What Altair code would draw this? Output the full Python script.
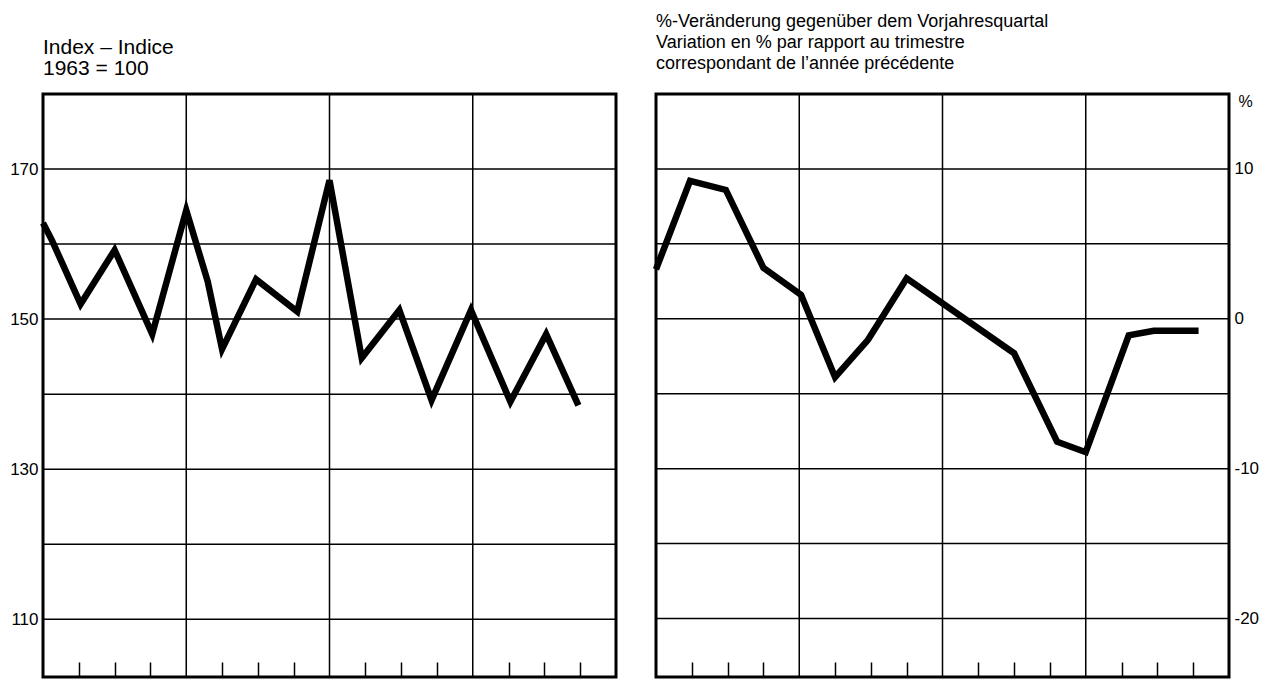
import altair as alt
import pandas as pd

# Left panel: index 1963 = 100 (quarter position, value)
index_q = [0, 0.25, 1.05, 2.0, 3.05, 4.0, 4.6, 5.0, 5.95, 7.1, 8.0, 8.9, 9.95, 10.85, 11.95, 13.05, 14.05, 14.95]
index_v = [162.8, 160.5, 152.0, 159.2, 148.0, 164.5, 155.0, 146.0, 155.3, 151.0, 168.5, 144.8, 151.2, 139.2, 151.2, 139.0, 148.0, 138.5]

# Right panel: % change vs same quarter of previous year
chg_q = [0, 0.95, 1.95, 3.0, 4.05, 5.0, 5.92, 7.0, 10.0, 11.2, 12.0, 13.2, 13.9, 15.15]
chg_v = [3.3, 9.2, 8.6, 3.4, 1.6, -3.9, -1.4, 2.7, -2.3, -8.2, -8.9, -1.1, -0.8, -0.8]

index_grid = [110, 120, 130, 140, 150, 160, 170]
index_labels = [110, 130, 150, 170]
chg_grid = [-20, -15, -10, -5, 0, 5, 10]
chg_labels = [-20, -10, 0, 10]
year_lines = [4, 8, 12]
quarter_ticks = [1, 2, 3, 5, 6, 7, 9, 10, 11, 13, 14, 15]

title_left = ["Index – Indice", "1963 = 100"]
title_right = ["%-Veränderung gegenüber dem Vorjahresquartal",
               "Variation en % par rapport au trimestre",
               "correspondant de l’année précédente"]

W, H = 573, 583
FONT = "Liberation Sans"


def panel(q, v, grid, labels, ydomain, orient, title, tsize, toffset, ytitle):
    xs = alt.Scale(domain=[0, 16], nice=False, zero=False)
    ys = alt.Scale(domain=ydomain, nice=False, zero=False)
    xaxis = alt.Axis(values=quarter_ticks, tickSize=15, offset=-15, labels=False,
                     domain=False, grid=False, title=None, tickColor="black",
                     tickWidth=1.5)
    yargs = dict(orient=orient, values=labels, grid=False, domain=False,
                 tickSize=0, labelPadding=5, labelColor="black",
                 labelFont=FONT, labelFontSize=17,
                 labelExpr="'' + datum.value")
    if ytitle:
        yargs.update(title=ytitle, titleAngle=0, titleX=9, titleY=-1,
                     titleAlign="left", titleBaseline="top", titleFontSize=16,
                     titleFontWeight="normal", titleFont=FONT, titleColor="black")
    else:
        yargs.update(title=None)
    yaxis = alt.Axis(**yargs)

    df = pd.DataFrame({"q": q, "v": v})
    hg = pd.DataFrame({"v": grid})
    vg = pd.DataFrame({"q": year_lines})

    hrules = alt.Chart(hg).mark_rule(color="black", strokeWidth=1.5).encode(
        y=alt.Y("v:Q", scale=ys, axis=yaxis))
    vrules = alt.Chart(vg).mark_rule(color="black", strokeWidth=1.5).encode(
        x=alt.X("q:Q", scale=xs, axis=xaxis))
    line = alt.Chart(df).mark_line(color="black", strokeWidth=6.5).encode(
        x=alt.X("q:Q", scale=xs, axis=xaxis),
        y=alt.Y("v:Q", scale=ys, axis=yaxis))
    return alt.layer(hrules, vrules, line).properties(
        width=W, height=H,
        title=alt.TitleParams(text=title, anchor="start", frame="group",
                              fontSize=tsize, font=FONT, fontWeight="normal",
                              lineHeight=21, offset=toffset, color="black"))


left = panel(index_q, index_v, index_grid, index_labels, [102.3, 180], "left",
             title_left, 21, 14, None)
right = panel(chg_q, chg_v, chg_grid, chg_labels, [-23.9, 15], "right",
              title_right, 18, 20, "%")

chart = alt.hconcat(left, right, spacing=40, bounds="flush").properties(
    padding={"left": 0, "top": 3, "right": 5, "bottom": 0},
    background="white"
).configure_view(stroke="black", strokeWidth=3).configure_axis(
    labelFont=FONT, labelFontSize=17, labelColor="black"
)

chart.save("out.html", embed_options={"renderer": "svg", "actions": False})
